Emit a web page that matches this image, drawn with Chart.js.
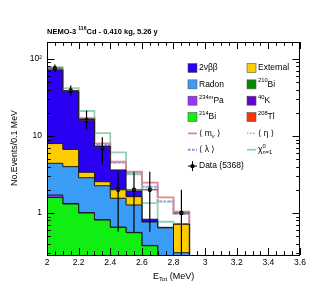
<!DOCTYPE html>
<html><head><meta charset="utf-8">
<script src="https://cdn.jsdelivr.net/npm/chart.js@4/dist/chart.umd.min.js"></script>
<style>html,body{margin:0;padding:0;background:#fff;}canvas{display:block;}</style>
</head><body>
<canvas id="c" width="315" height="301"></canvas>
<script>
// ---------- data ----------
const binLow = [2.0, 2.1, 2.2, 2.3, 2.4, 2.5, 2.6, 2.7, 2.8];
const binWidth = 0.1;
const bi214    = [1.59, 1.31, 1.0, 0.81, 0.65, 0.555, 0.376, 0.05, 0.05];
const pa234m   = [0.12, 0.02, 0.01, 0.01, 0.005, 0.005, 0.003, 0.002, 0.002];
const radon    = [2.71, 2.67, 1.86, 1.44, 0.9, 0.71, 0.385, 0.59, 0.253];
const external = [3.55, 2.7, 0.51, 0.29, 0.48, 0.36, 0.0, 0.0, 0.41];
const bb2nu    = [64, 30.9, 13.2, 4.85, 1.59, 0.30, 0.066, 0.01, 0.0];
const mnuTotal    = [72.5, 38.0, 17.0, 8.0, 4.64, 3.44, 2.48, 1.60, 1.04];
const etaTotal    = [72.3, 37.8, 16.8, 7.8, 4.50, 3.30, 2.13, 1.40, 0.97];
const lambdaTotal = [72.3, 37.8, 16.8, 7.8, 4.50, 3.30, 2.20, 1.42, 0.97];
const chi2Total   = [78, 41.7, 21.1, 10.9, 6.13, 3.18, 1.34, 0.77, 0.72];
const dataVal = [76, 39, 16, 7, 2, 2, 2, null, 1];
const dataLo  = [67.5, 32.8, 12.0, 4.4, 0.57, 0.57, 0.57, null, 0.001];
const dataHi  = [85, 45.2, 21.3, 9.6, 3.44, 3.44, 3.44, null, 2.0];
const xTickValues = [2.0, 2.2, 2.4, 2.6, 2.8, 3.0, 3.2, 3.4, 3.6];
const xTickLabels = ['2', '2.2', '2.4', '2.6', '2.8', '3', '3.2', '3.4', '3.6'];
const yTickValues = [1, 10, 100];
const yTickLabels = ['1', '10', '10\u00B2'];

// ---------- styles ----------
const FONT = "'Liberation Sans', 'DejaVu Sans', Arial, sans-serif";
const C = {
  bb: '#2a00f2', ext: '#ffcc00', radon: '#3a9cf5', bi210: '#008a00',
  pa: '#9933ff', k40: '#6600cc', bi214: '#11ee11', tl: '#ff3300',
  mnu: '#e08888', eta: '#9fb0e0', lam: '#7f99dd', chi: '#92d2b4', edge: '#1a1a1a'
};
const FLOOR = 1e-3;

function steps(vals) {
  const pts = vals.map((v, i) => ({ x: binLow[i], y: Math.max(v, FLOOR) }));
  const last = vals.length - 1;
  pts.push({ x: binLow[last] + binWidth, y: Math.max(vals[last], FLOOR) });
  pts.push({ x: binLow[last] + binWidth, y: FLOOR });
  return pts;
}
// cumulative stack (bottom to top)
const comps = [bi214, pa234m, radon, external, bb2nu];
const compColors = [C.bi214, C.pa, C.radon, C.ext, C.bb];
const cum = [];
comps.forEach((arr, k) => {
  cum.push(arr.map((v, i) => v + (k ? cum[k - 1][i] : 0)));
});

const datasets = [];
// stack fills: higher order is drawn first, so the top-most cumulative sits underneath
cum.forEach((vals, k) => {
  datasets.push({
    type: 'line', data: steps(vals), stepped: 'before',
    fill: 'start', backgroundColor: compColors[k], borderColor: C.edge,
    borderWidth: 1, pointRadius: 0, order: 10 + k
  });
});
// model lines (beneath stack)
[[mnuTotal, C.mnu, []], [etaTotal, C.eta, [1.5, 1.5]], [lambdaTotal, C.lam, [2.5, 1.5]], [chi2Total, C.chi, []]]
  .forEach(([vals, col, dash], k) => {
    datasets.push({
      type: 'line', data: steps(vals), stepped: 'before', fill: false,
      borderColor: col, borderWidth: 1.8, borderDash: dash, pointRadius: 0, order: 20 + k
    });
  });
// data points
datasets.push({
  type: 'line', showLine: false, order: 0,
  data: binLow.map((x, i) => dataVal[i] == null ? null : ({ x: x + binWidth / 2, y: dataVal[i] })).filter(p => p),
  pointRadius: 2.2, pointBackgroundColor: '#000', pointBorderColor: '#000', pointBorderWidth: 0
});

// ---------- helpers ----------
function rich(ctx, x, y, parts, size, bold) {
  const w = bold ? 'bold ' : '';
  ctx.textBaseline = 'middle';
  ctx.textAlign = 'left';
  for (const p of parts) {
    if (p.sup !== undefined || p.sub !== undefined) {
      if (p.t !== undefined) {
        const s = size * 0.68;
        ctx.font = w + s + 'px ' + FONT;
        const dy = p.sup ? -size * 0.42 : size * 0.3;
        ctx.fillText(p.t, x, y + dy);
        x += ctx.measureText(p.t).width;
      } else {
        const s = size * 0.68;
        ctx.font = w + s + 'px ' + FONT;
        ctx.fillText(p.sup, x, y - size * 0.42);
        ctx.fillText(p.sub, x, y + size * 0.32);
        x += Math.max(ctx.measureText(p.sup).width, ctx.measureText(p.sub).width);
      }
    } else {
      ctx.font = w + size + 'px ' + FONT;
      ctx.fillText(p.t, x, y);
      x += ctx.measureText(p.t).width;
    }
  }
  return x;
}

const legendEntries = [
  { col: 0, row: 0, type: 'box', color: C.bb, parts: [{ t: '2\u03BD\u03B2\u03B2' }] },
  { col: 1, row: 0, type: 'box', color: C.ext, parts: [{ t: 'External' }] },
  { col: 0, row: 1, type: 'box', color: C.radon, parts: [{ t: 'Radon' }] },
  { col: 1, row: 1, type: 'box', color: C.bi210, parts: [{ t: '210', sup: 1 }, { t: 'Bi' }] },
  { col: 0, row: 2, type: 'box', color: C.pa, parts: [{ t: '234m', sup: 1 }, { t: 'Pa' }] },
  { col: 1, row: 2, type: 'box', color: C.k40, parts: [{ t: '40', sup: 1 }, { t: 'K' }] },
  { col: 0, row: 3, type: 'box', color: C.bi214, parts: [{ t: '214', sup: 1 }, { t: 'Bi' }] },
  { col: 1, row: 3, type: 'box', color: C.tl, parts: [{ t: '208', sup: 1 }, { t: 'Tl' }] },
  { col: 0, row: 4, type: 'line', color: C.mnu, dash: [], parts: [{ t: '\u27E8 m' }, { t: '\u03BD', sub: 1 }, { t: ' \u27E9' }] },
  { col: 1, row: 4, type: 'line', color: C.eta, dash: [1.5, 1.5], parts: [{ t: '\u27E8 \u03B7 \u27E9' }] },
  { col: 0, row: 5, type: 'line', color: C.lam, dash: [2.5, 1.5], parts: [{ t: '\u27E8 \u03BB \u27E9' }] },
  { col: 1, row: 5, type: 'line', color: C.chi, dash: [], parts: [{ t: '\u03C7' }, { sup: '0', sub: 'n=1' }] },
  { col: 0, row: 6, type: 'data', parts: [{ t: 'Data (5368)' }] }
];

const decor = {
  id: 'decor',
  afterDatasetsDraw(chart) {
    const { ctx, chartArea: a, scales: { x, y } } = chart;
    ctx.save();
    ctx.beginPath(); ctx.rect(a.left, a.top, a.right - a.left, a.bottom - a.top); ctx.clip();
    // error bars
    binLow.forEach((lo, i) => {
      if (dataVal[i] == null) return;
      const xc = x.getPixelForValue(lo + binWidth / 2);
      const yc = y.getPixelForValue(dataVal[i]);
      ctx.strokeStyle = '#000';
      ctx.lineWidth = 1.2;
      ctx.beginPath();
      ctx.moveTo(xc, y.getPixelForValue(dataHi[i]));
      ctx.lineTo(xc, y.getPixelForValue(dataLo[i]));
      ctx.stroke();
      ctx.lineWidth = 1;
      ctx.strokeStyle = '#333';
      ctx.beginPath();
      ctx.moveTo(x.getPixelForValue(lo), yc);
      ctx.lineTo(x.getPixelForValue(lo + binWidth), yc);
      ctx.stroke();
    });
    ctx.restore();

    ctx.save();
    ctx.strokeStyle = '#000';
    ctx.lineWidth = 1;
    // x ticks (top and bottom, inward)
    const xmin = x.min, xmax = x.max;
    for (let k = 0; ; k++) {
      const v = xmin + k * 0.05;
      if (v > xmax + 1e-9) break;
      const px = Math.round(x.getPixelForValue(v)) + 0.5;
      const len = (k % 4 === 0) ? 7 : 3.8;
      ctx.beginPath();
      ctx.moveTo(px, a.bottom); ctx.lineTo(px, a.bottom - len);
      ctx.moveTo(px, a.top); ctx.lineTo(px, a.top + len);
      ctx.stroke();
    }
    // y ticks (log, left and right)
    for (let e = -1; e <= 3; e++) {
      for (let m = 1; m <= 9; m++) {
        const v = m * Math.pow(10, e);
        if (v < y.min || v > y.max) continue;
        const py = Math.round(y.getPixelForValue(v)) + 0.5;
        const len = m === 1 ? 7.5 : 3.8;
        ctx.beginPath();
        ctx.moveTo(a.left, py); ctx.lineTo(a.left + len, py);
        ctx.moveTo(a.right, py); ctx.lineTo(a.right - len, py);
        ctx.stroke();
      }
    }
    // frame
    ctx.strokeRect(a.left + 0.5, a.top + 0.5, a.right - a.left - 1, a.bottom - a.top);
    ctx.restore();
  },
  afterDraw(chart) {
    const { ctx, chartArea: a } = chart;
    ctx.save();
    ctx.fillStyle = '#000';
    // title
    rich(ctx, a.left, 32, [{ t: 'NEMO-3 ' }, { t: '116', sup: 1 }, { t: 'Cd - 0.410 kg, 5.26 y' }], 7.5, true);
    // x axis title
    rich(ctx, 153, 277, [{ t: 'E' }, { t: 'Tot', sub: 1 }, { t: ' (MeV)' }], 9);
    // y axis title
    ctx.save();
    ctx.translate(15, 148);
    ctx.rotate(-Math.PI / 2);
    ctx.font = '8.8px ' + FONT;
    ctx.textAlign = 'center'; ctx.textBaseline = 'middle';
    ctx.fillText('No.Events/0.1 MeV', 0, 0);
    ctx.restore();
    // legend
    const colX = [188, 247];
    legendEntries.forEach(en => {
      const bx = colX[en.col], cy = 68 + en.row * 16.35;
      if (en.type === 'box') {
        ctx.fillStyle = en.color;
        ctx.fillRect(bx, cy - 4.5, 9, 9);
        ctx.strokeStyle = '#555'; ctx.lineWidth = 0.6;
        ctx.strokeRect(bx, cy - 4.5, 9, 9);
      } else if (en.type === 'line') {
        ctx.strokeStyle = en.color; ctx.lineWidth = 1.8;
        ctx.setLineDash(en.dash);
        ctx.beginPath(); ctx.moveTo(bx, cy); ctx.lineTo(bx + 9, cy); ctx.stroke();
        ctx.setLineDash([]);
      } else {
        ctx.strokeStyle = '#000'; ctx.lineWidth = 1;
        ctx.beginPath();
        ctx.moveTo(bx, cy); ctx.lineTo(bx + 9, cy);
        ctx.moveTo(bx + 4.5, cy - 5); ctx.lineTo(bx + 4.5, cy + 5);
        ctx.stroke();
        ctx.fillStyle = '#000';
        ctx.beginPath(); ctx.arc(bx + 4.5, cy, 2.2, 0, Math.PI * 2); ctx.fill();
      }
      ctx.fillStyle = '#000';
      rich(ctx, bx + 11, cy, en.parts, 8.5);
    });
    ctx.restore();
  }
};

new Chart(document.getElementById('c'), {
  type: 'line',
  data: { datasets },
  options: {
    responsive: false, devicePixelRatio: 1, animation: false,
    layout: { padding: { left: 0, top: 42, right: 15, bottom: 0 } },
    plugins: { legend: { display: false }, tooltip: { enabled: false }, title: { display: false } },
    scales: {
      x: {
        type: 'linear', min: 2.0, max: 3.6,
        grid: { display: false, drawTicks: false }, border: { display: false },
        afterBuildTicks: s => { s.ticks = xTickValues.map(v => ({ value: v })); },
        afterFit: s => { s.height = 46; },
        ticks: {
          autoSkip: false, maxRotation: 0, padding: 3, color: '#000',
          font: { family: FONT, size: 8.5 },
          callback: (v, i) => xTickLabels[i]
        }
      },
      y: {
        type: 'logarithmic', min: 0.285, max: 166,
        grid: { display: false, drawTicks: false }, border: { display: false },
        afterBuildTicks: s => { s.ticks = yTickValues.map(v => ({ value: v })); },
        afterFit: s => { s.width = 47; },
        ticks: {
          autoSkip: false, padding: 5, color: '#000',
          font: { family: FONT, size: 8.5 },
          callback: (v, i) => yTickLabels[i]
        }
      }
    }
  },
  plugins: [decor]
});
</script>
</body></html>
